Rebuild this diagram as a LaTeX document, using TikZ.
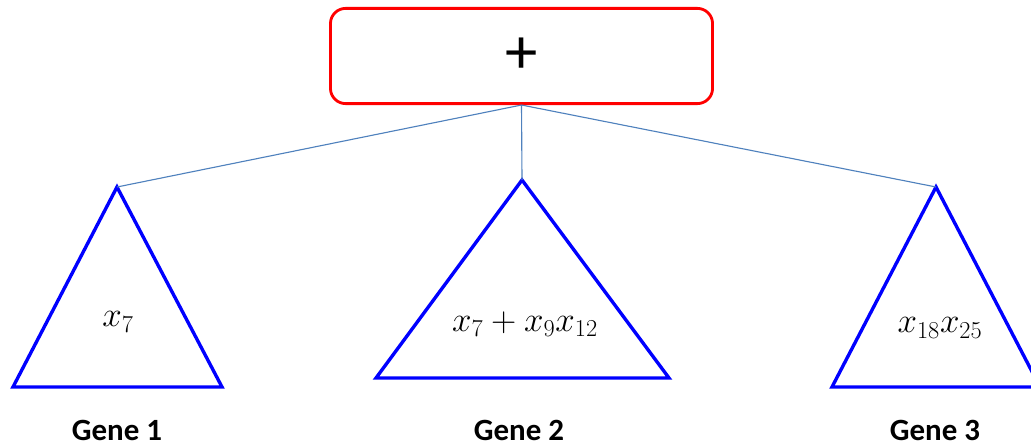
\documentclass[tikz,border=0pt]{standalone}
\usepackage{fontspec}
\usepackage{amsmath}
\usetikzlibrary{positioning}
\newfontfamily\genefont{Carlito}
\definecolor{linkblue}{RGB}{79,129,189}

\begin{document}
\begin{tikzpicture}[x=0.025cm,y=-0.025cm,
      plus node/.style={draw=red,line width=2pt,rounded corners=0.38cm,
        minimum width=9.55cm,minimum height=2.38cm,inner sep=0pt,font=\genefont\fontsize{46}{50}\selectfont},
      gene tree/.style={draw=blue,line width=2.4pt,line join=miter},
      gene label/.style={font=\genefont\bfseries\fontsize{22}{26}\selectfont},
      term/.style={font=\fontsize{24}{28}\selectfont},
      link/.style={draw=linkblue,line width=0.8pt}]
      \useasboundingbox (0,0) rectangle (1031,446);

      \node[plus node] (root) at (521.5,56) {\raisebox{-0.08cm}{+}};

      % apexes of the three sub-trees
      \coordinate (g1) at (117,187);
      \coordinate (g2) at (522,180);
      \coordinate (g3) at (936,187);

      \draw[gene tree] (g1) -- (222,387) -- (13,387) -- cycle;
      \draw[gene tree] (g2) -- (669,378) -- (376,378) -- cycle;
      \draw[gene tree] (g3) -- (1040,387) -- (832,387) -- cycle;

      \node[term] (t1) at (118,322) {$x_7$};
      \node[term] (t2) at (525,324) {$x_7+x_9x_{12}$};
      \node[term] (t3) at (940,328) {$x_{18}x_{25}$};

      \node[gene label] (n1) at (117,430) {Gene 1};
      \node[gene label] (n2) at (519,430) {Gene 2};
      \node[gene label] (n3) at (935,430) {Gene 3};

      \path[link]
        (root.south) edge (g1)
        (root.south) edge (g2)
        (root.south) edge (g3);
    \end{tikzpicture}
\end{document}
